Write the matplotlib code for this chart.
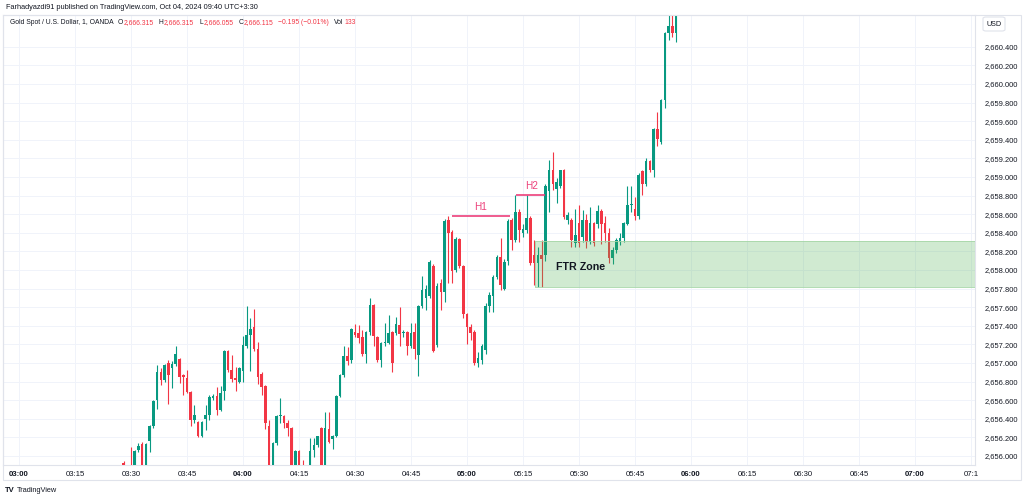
import matplotlib
matplotlib.use("Agg")
import matplotlib.pyplot as plt
from matplotlib import font_manager
from matplotlib.patches import Rectangle, FancyBboxPatch
import numpy as np
import pandas as pd

# ---------------- data (1-minute candles, first candle 03:28) ----------------
start_time = "03:28"
opens = [2655.93, 2655.80, 2655.86, 2655.75, 2656.06, 2656.13, 2655.85, 2656.16, 2656.32, 2656.60,
         2656.90, 2656.82, 2657.00, 2656.95, 2656.99, 2657.04, 2656.87, 2656.84, 2656.69, 2656.39,
         2656.37, 2656.21, 2656.40, 2656.44, 2656.62, 2656.65, 2656.50, 2656.70, 2657.13, 2656.93,
         2656.84, 2656.80, 2656.91, 2657.18, 2657.30, 2657.39, 2657.15, 2656.88, 2656.75, 2656.32,
         2655.85, 2656.14, 2656.43, 2656.43, 2656.35, 2656.30, 2655.85, 2656.05, 2655.88, 2655.80,
         2655.80, 2656.06, 2656.12, 2656.30, 2655.85, 2656.29, 2656.18, 2656.22, 2656.65, 2656.87,
         2657.07, 2657.03, 2657.33, 2657.32, 2657.28, 2657.10, 2657.33, 2657.62, 2657.28, 2657.03,
         2657.21, 2657.22, 2657.33, 2657.32, 2657.41, 2657.32, 2657.33, 2657.18, 2657.33, 2657.09,
         2657.61, 2657.70, 2657.72, 2658.04, 2657.19, 2657.86, 2657.76, 2658.54, 2658.41, 2658.00,
         2658.33, 2658.04, 2657.53, 2657.39, 2657.33, 2657.00, 2657.03, 2657.14, 2657.61, 2657.72,
         2657.93, 2658.14, 2657.80, 2658.10, 2658.54, 2658.32, 2658.62, 2658.40, 2658.43, 2658.56,
         2658.16, 2658.07, 2658.16, 2658.16, 2658.85, 2659.07, 2658.87, 2658.90, 2659.08, 2658.54,
         2658.54, 2658.29, 2658.50, 2658.36, 2658.54, 2658.30, 2658.50, 2658.50, 2658.63, 2658.50,
         2658.40, 2658.13, 2658.22, 2658.30, 2658.34, 2658.50, 2658.70, 2658.66, 2658.58, 2659.06,
         2658.93, 2659.17, 2659.07, 2659.52, 2659.38, 2659.83, 2660.545, 2660.62, 2660.55]
highs = [2655.95, 2655.85, 2656.10, 2656.06, 2656.14, 2656.15, 2656.14, 2656.33, 2656.60, 2656.98,
         2656.95, 2656.99, 2657.03, 2657.02, 2657.18, 2657.05, 2656.88, 2656.93, 2656.70, 2656.55,
         2656.38, 2656.38, 2656.55, 2656.66, 2656.67, 2656.74, 2656.75, 2657.14, 2657.14, 2657.09,
         2656.96, 2656.96, 2657.29, 2657.61, 2657.48, 2657.58, 2657.23, 2656.90, 2656.76, 2656.39,
         2656.15, 2656.44, 2656.62, 2656.44, 2656.39, 2656.31, 2656.06, 2656.06, 2655.96, 2655.85,
         2656.19, 2656.19, 2656.22, 2656.31, 2656.47, 2656.47, 2656.23, 2656.66, 2656.88, 2657.18,
         2657.17, 2657.38, 2657.42, 2657.41, 2657.36, 2657.34, 2657.70, 2657.63, 2657.29, 2657.23,
         2657.43, 2657.52, 2657.34, 2657.50, 2657.60, 2657.36, 2657.34, 2657.43, 2657.43, 2657.62,
         2657.94, 2657.84, 2658.11, 2658.06, 2657.86, 2657.90, 2658.55, 2658.585, 2658.43, 2658.36,
         2658.34, 2658.05, 2657.54, 2657.42, 2657.36, 2657.12, 2657.20, 2657.65, 2657.76, 2657.95,
         2658.16, 2658.34, 2658.12, 2658.55, 2658.56, 2658.81, 2658.66, 2658.50, 2658.81, 2658.58,
         2658.32, 2658.25, 2658.32, 2658.92, 2659.18, 2659.27, 2658.99, 2659.08, 2659.09, 2658.62,
         2658.56, 2658.66, 2658.70, 2658.64, 2658.60, 2658.68, 2658.52, 2658.70, 2658.66, 2658.58,
         2658.45, 2658.25, 2658.34, 2658.40, 2658.52, 2658.90, 2658.90, 2658.79, 2659.04, 2659.08,
         2659.20, 2659.18, 2659.53, 2659.70, 2659.84, 2660.56, 2660.74, 2660.74, 2660.85]
lows = [2655.75, 2655.70, 2655.70, 2655.72, 2656.04, 2655.80, 2655.80, 2656.04, 2656.30, 2656.51,
        2656.76, 2656.80, 2656.56, 2656.73, 2656.97, 2656.78, 2656.66, 2656.68, 2656.32, 2656.35,
        2656.20, 2656.20, 2656.28, 2656.39, 2656.60, 2656.44, 2656.48, 2656.60, 2656.90, 2656.80,
        2656.70, 2656.78, 2656.80, 2657.16, 2656.91, 2657.13, 2656.77, 2656.66, 2656.29, 2655.80,
        2655.80, 2656.12, 2656.35, 2656.30, 2656.21, 2655.80, 2655.80, 2655.80, 2655.75, 2655.70,
        2655.75, 2655.99, 2656.10, 2655.80, 2655.80, 2656.14, 2656.07, 2656.20, 2656.63, 2656.85,
        2656.98, 2657.00, 2657.28, 2657.21, 2657.08, 2657.00, 2657.30, 2657.18, 2657.01, 2656.96,
        2657.18, 2657.20, 2656.90, 2657.30, 2657.18, 2657.28, 2657.09, 2657.16, 2657.04, 2656.86,
        2657.59, 2657.57, 2657.70, 2657.12, 2657.17, 2657.57, 2657.66, 2657.86, 2657.86, 2657.98,
        2658.02, 2657.48, 2657.20, 2657.25, 2656.98, 2656.96, 2656.99, 2657.10, 2657.55, 2657.55,
        2657.90, 2657.78, 2657.78, 2658.05, 2658.21, 2658.30, 2658.30, 2658.36, 2658.40, 2658.05,
        2657.84, 2657.82, 2657.82, 2658.10, 2658.62, 2658.86, 2658.72, 2658.88, 2658.55, 2658.50,
        2658.25, 2658.25, 2658.25, 2658.30, 2658.24, 2658.28, 2658.26, 2658.45, 2658.28, 2658.30,
        2658.08, 2658.06, 2658.18, 2658.27, 2658.30, 2658.48, 2658.62, 2658.54, 2658.55, 2658.81,
        2658.90, 2659.05, 2659.00, 2659.33, 2659.35, 2659.74, 2660.47, 2660.51, 2660.45]
closes = [2655.80, 2655.76, 2655.75, 2656.05, 2656.11, 2655.85, 2656.13, 2656.32, 2656.59, 2656.90,
          2656.82, 2656.98, 2656.87, 2656.99, 2657.10, 2656.85, 2656.85, 2656.69, 2656.39, 2656.44,
          2656.21, 2656.37, 2656.44, 2656.63, 2656.64, 2656.50, 2656.68, 2657.13, 2656.92, 2656.83,
          2656.82, 2656.95, 2657.19, 2657.30, 2657.37, 2657.15, 2656.85, 2656.74, 2656.36, 2655.85,
          2656.14, 2656.43, 2656.44, 2656.36, 2656.30, 2655.85, 2656.05, 2655.85, 2655.80, 2655.78,
          2656.05, 2656.12, 2656.21, 2655.85, 2656.30, 2656.15, 2656.22, 2656.65, 2656.87, 2657.08,
          2657.02, 2657.37, 2657.30, 2657.27, 2657.10, 2657.33, 2657.62, 2657.29, 2657.03, 2657.22,
          2657.23, 2657.32, 2657.00, 2657.42, 2657.31, 2657.33, 2657.18, 2657.32, 2657.15, 2657.61,
          2657.79, 2657.80, 2658.09, 2657.13, 2657.83, 2657.76, 2658.53, 2658.40, 2657.99, 2658.33,
          2658.04, 2657.53, 2657.39, 2657.32, 2657.00, 2657.05, 2657.18, 2657.61, 2657.73, 2657.93,
          2658.14, 2657.84, 2658.09, 2658.53, 2658.32, 2658.62, 2658.43, 2658.44, 2658.56, 2658.07,
          2658.07, 2658.16, 2658.12, 2658.90, 2659.08, 2658.93, 2658.95, 2659.08, 2658.57, 2658.59,
          2658.32, 2658.38, 2658.29, 2658.54, 2658.30, 2658.50, 2658.29, 2658.63, 2658.50, 2658.40,
          2658.13, 2658.22, 2658.32, 2658.34, 2658.50, 2658.70, 2658.71, 2658.58, 2659.02, 2658.93,
          2659.17, 2659.07, 2659.52, 2659.41, 2659.83, 2660.545, 2660.62, 2660.545, 2660.80]

time_ticks = ["03:00", "03:15", "03:30", "03:45", "04:00", "04:15", "04:30", "04:45", "05:00",
              "05:15", "05:30", "05:45", "06:00", "06:15", "06:30", "06:45", "07:00", "07:1"]
price_ticks = [2656.0, 2656.2, 2656.4, 2656.6, 2656.8, 2657.0, 2657.2, 2657.4, 2657.6, 2657.8,
               2658.0, 2658.2, 2658.4, 2658.6, 2658.8, 2659.0, 2659.2, 2659.4, 2659.6, 2659.8,
               2660.0, 2660.2, 2660.4]

h1_level = 2658.585
h2_level = 2658.81
ftr_low, ftr_high = 2657.82, 2658.315

# ---------------- helpers ----------------
def pick_font(names):
    for n in names:
        try:
            font_manager.findfont(font_manager.FontProperties(family=n), fallback_to_default=False)
            return n
        except Exception:
            pass
    return "DejaVu Sans"

FONT = pick_font(["Liberation Sans", "Arial", "DejaVu Sans"])
plt.rcParams["font.family"] = [FONT, "DejaVu Sans"]

W, H = 1024, 500
def fx(px):
    return px / W
def fy(py):
    return 1 - py / H

UP = "#089981"
DOWN = "#f23645"
PINK = "#ec407a"
TXT = "#131722"
GRID = "#f0f3fa"
BORDER = "#e0e3eb"

fig = plt.figure(figsize=(W / 100, H / 100), dpi=100)
fig.patch.set_facecolor("white")

ax = fig.add_axes([fx(3), fy(465), (975 - 3) / W, (465 - 15) / H])

# x positions: minutes since 03:00
t0 = pd.Timestamp("2024-10-04 " + start_time)
times = pd.date_range(t0, periods=len(opens), freq="1min")
base = pd.Timestamp("2024-10-04 03:00")
x = np.array([(t - base).total_seconds() / 60 for t in times])

o = np.array(opens); h = np.array(highs); l = np.array(lows); c = np.array(closes)
up = c >= o
cols = np.where(up, UP, DOWN)

ax.vlines(x, l, h, colors=cols, lw=0.8, zorder=3)
body_b = np.minimum(o, c)
body_h = np.maximum(np.abs(c - o), 0.008)
ax.bar(x, body_h, bottom=body_b, width=0.7, color=cols, linewidth=0, zorder=4)

# FTR zone
ftr_left = 138.2
ax.add_patch(Rectangle((ftr_left, ftr_low), 400, ftr_high - ftr_low,
                       facecolor="#4caf50", alpha=0.26, edgecolor="none", zorder=5))
ax.add_patch(Rectangle((ftr_left, ftr_low), 400, ftr_high - ftr_low,
                       facecolor="none", edgecolor="#a5d6a7", lw=0.6, zorder=5))
ax.text(150.3, 2658.03, "FTR Zone", fontsize=7.7, fontweight="bold", color=TXT,
        ha="center", va="center", zorder=7)

# H1 / H2
ax.plot([116.1, 131.5], [h1_level, h1_level], color=PINK, lw=1.2, zorder=6, solid_capstyle="butt")
ax.text(123.6, 2658.675, "H1", fontsize=7.2, color=PINK, ha="center", va="center", zorder=7)
ax.plot([133.1, 140.9], [h2_level, h2_level], color=PINK, lw=1.2, zorder=6, solid_capstyle="butt")
ax.text(137.4, 2658.905, "H2", fontsize=7.2, color=PINK, ha="center", va="center", zorder=7)

# axes limits & ticks
xmin = (3 - 19) / 3.733
xmax = (975 - 19) / 3.733
ax.set_xlim(xmin, xmax)
ax.set_ylim(2658 - (465 - 270) / 93.0, 2658 + (270 - 15) / 93.0)

xt = [15 * i for i in range(len(time_ticks))]
ax.set_xticks(xt)
ax.set_xticklabels(time_ticks)
for lab in ax.get_xticklabels():
    if lab.get_text().endswith(":00"):
        lab.set_fontweight("bold")
ax.tick_params(axis="x", length=0, pad=4, labelsize=5.6, labelcolor=TXT)

ax.yaxis.tick_right()
ax.set_yticks(price_ticks)
ax.set_yticklabels([f"{v:,.3f}" for v in price_ticks])
ax.tick_params(axis="y", length=0, pad=7, labelsize=5.4, labelcolor=TXT)

ax.grid(True, color=GRID, lw=0.7, zorder=0)
ax.set_axisbelow(True)
for s in ax.spines.values():
    s.set_color(BORDER)
    s.set_linewidth(0.8)

# outer panel border
fig.add_artist(Rectangle((fx(3), fy(480)), (1021 - 3) / W, (480 - 15) / H,
                         transform=fig.transFigure, facecolor="none", edgecolor=BORDER, lw=0.8))

# USD box
fig.add_artist(FancyBboxPatch((fx(983), fy(31)), 22 / W, 14 / H,
                              boxstyle="round,pad=0,rounding_size=0.003",
                              transform=fig.transFigure, facecolor="white",
                              edgecolor=BORDER, lw=0.8))
fig.text(fx(994), fy(24), "USD", fontsize=5.2, color=TXT, ha="center", va="center")

# header
fig.text(fx(6), fy(7.5), "Farhadyazdi91 published on TradingView.com, Oct 04, 2024 09:40 UTC+3:30",
         fontsize=5.3, color=TXT, ha="left", va="center")

# legend row: laid out piece by piece (gap in pixels before each piece)
ly = fy(22.5)
pieces = [
    (0, "Gold Spot / U.S. Dollar, 1, OANDA", TXT),
    (4, "O", TXT), (0.5, "2,666.315", DOWN),
    (5, "H", TXT), (0.5, "2,666.315", DOWN),
    (5, "L", TXT), (0.5, "2,666.055", DOWN),
    (5, "C", TXT), (0.5, "2,666.115", DOWN),
    (5, "\u22120.195 (\u22120.01%)", DOWN),
    (5, "Vol", TXT), (0.5, "133", DOWN),
]
renderer = fig.canvas.get_renderer()
cur = 10.0
for gap, s, col in pieces:
    cur += gap
    t = fig.text(fx(cur), ly, s, fontsize=4.9, color=col, ha="left", va="center")
    bb = t.get_window_extent(renderer=renderer)
    cur += bb.width

# TradingView footer
fig.text(fx(5), fy(490), "TV", fontsize=5.5, fontweight="bold", color=TXT, ha="left", va="center")
fig.text(fx(16.5), fy(490), "TradingView", fontsize=5.3, color=TXT, ha="left", va="center")

fig.savefig("out.png", dpi=100, facecolor="white")
